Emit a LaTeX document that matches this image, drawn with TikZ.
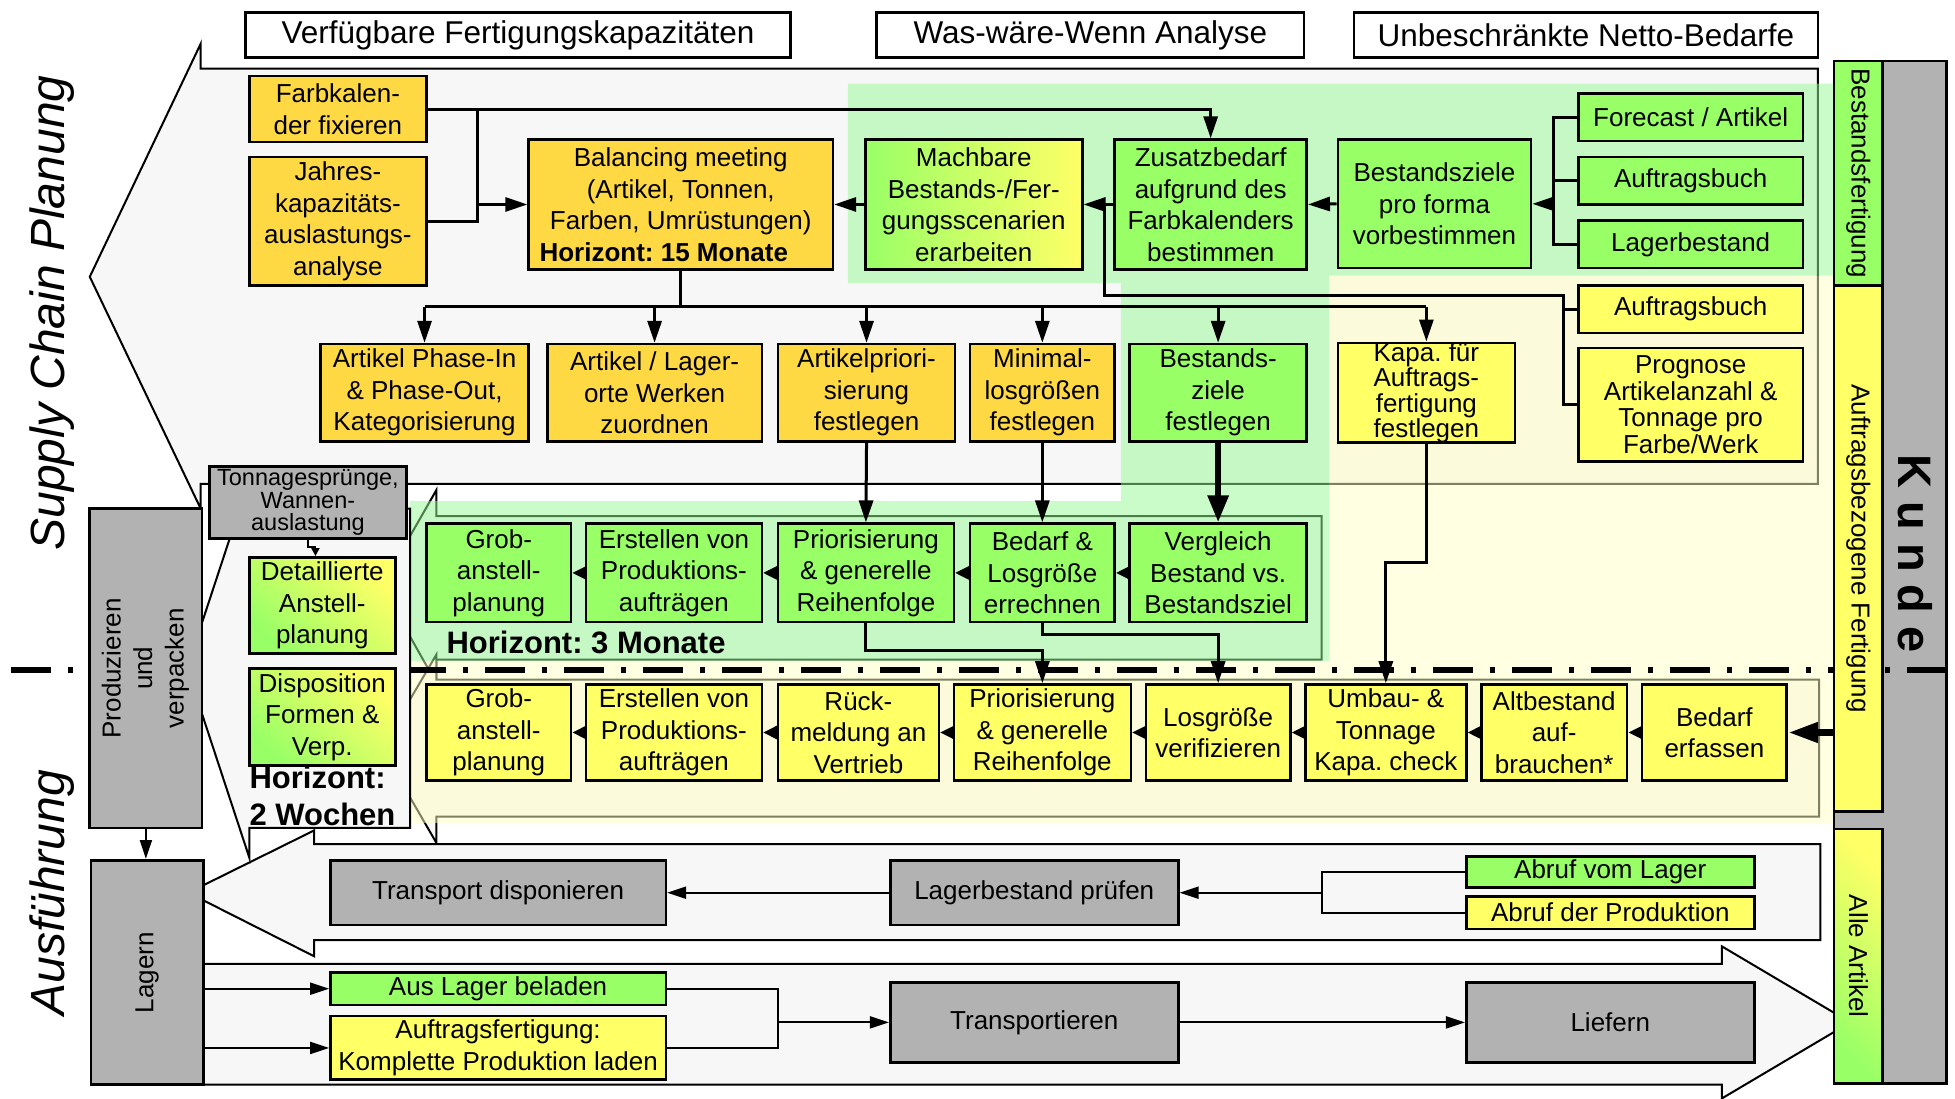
\documentclass[tikz,border=0pt]{standalone}
\usepackage{fontspec}
\setmainfont{Liberation Sans}
\usetikzlibrary{arrows.meta}
\frenchspacing

\definecolor{orgC}{RGB}{255,217,68}
\definecolor{grnC}{RGB}{153,255,102}
\definecolor{yelC}{RGB}{255,255,102}
\definecolor{gryC}{RGB}{178,178,178}
\definecolor{bgC}{RGB}{247,247,247}
\definecolor{ovG}{RGB}{150,250,150}
\definecolor{ovY}{RGB}{255,255,195}

% box from corner (#3,#4) to corner (#5,#6)
\newcommand\mybox[7][]{%
  \pgfmathsetmacro\boxW{(#5-#3)*1.2468}%
  \pgfmathsetmacro\boxH{(#6-#4)*1.2468}%
  \node[box,#1,minimum width=\boxW pt,minimum height=\boxH pt] (#2) at ({(#3+#5)/2},{(#4+#6)/2}) {#7};}
\newcommand\vtext[2]{\rotatebox{#1}{\begin{tabular}{@{}c@{}}#2\end{tabular}}}

\begin{document}
\begin{tikzpicture}[x=1.2468pt,y=-1.2468pt,
  box/.style={draw,line width=2.6pt,align=center,inner sep=1pt,font=\fontsize{26}{31.5}\selectfont},
  hdr/.style={fill=white,font=\fontsize{31.5}{36}\selectfont},
  grad/.style={bottom color=grnC,top color=yelC,shading angle=-45},
  bgarrow/.style={fill=bgC,draw=black,line width=2pt,line join=miter},
  wire/.style={line width=3pt},
  conn/.style={wire,-{Triangle[length=22pt,width=14pt]}},
  sconn/.style={wire,-{Triangle[length=14pt,width=13pt]}},
  thconn/.style={line width=6pt,-{Triangle[length=27pt,width=20pt]}},
  kconn/.style={line width=7pt,-{Triangle[length=30pt,width=19pt]}},
  bwire/.style={line width=2pt},
  bconn/.style={bwire,-{Triangle[length=19pt,width=12pt]}},
  title/.style={font=\fontsize{48}{48}\itshape\selectfont,inner sep=0pt}]
\useasboundingbox (0,0) rectangle (1568,881);

% ---------- block arrows in the background ----------
\draw[bgarrow] (161,35) -- (161,55) -- (1458,55) -- (1458,388) -- (161,388) -- (161,408) -- (72,222) -- cycle;
\draw[bgarrow] (350,393) -- (350,414) -- (1060,414) -- (1060,529) -- (350,529) -- (350,548) -- (306,470) -- cycle;
\draw[bgarrow] (350,525) -- (350,545) -- (1459,545) -- (1459,655) -- (350,655) -- (350,676) -- (306,600) -- cycle;
\draw[bgarrow] (252,666) -- (252,677) -- (1460,677) -- (1460,754) -- (252,754) -- (252,767) -- (151,716) -- cycle;
\draw[bgarrow] (73,773) -- (1381,773) -- (1381,759) -- (1484,820) -- (1381,881) -- (1381,870) -- (73,870) -- cycle;

% ---------- tinted areas ----------
\fill[ovG,fill opacity=0.5] (680,67) -- (1470,67) -- (1470,221) -- (1066,221) -- (1066,530) -- (329,530) -- (329,402) -- (899,402) -- (899,227) -- (680,227) -- cycle;
\fill[ovY,fill opacity=0.5] (1066,221) -- (1472,221) -- (1472,660) -- (329,660) -- (329,530) -- (1066,530) -- cycle;

% ---------- customer column ----------
\mybox[fill=gryC]{kunde}{1471}{49}{1561}{869}{}

% planning / execution border
\draw[line width=6pt,dash pattern=on 40pt off 17pt on 5pt off 17pt] (9,537) -- (1561,537);

\mybox[fill=grnC]{bestbar}{1471}{49}{1510}{229}{\rotatebox{-90}{Bestandsfertigung}}
\mybox[fill=yelC]{auftrag}{1471}{229}{1510}{651}{\rotatebox{-90}{Auftragsbezogene Fertigung}}
\mybox[grad]{alle}{1471}{665}{1510}{869}{\rotatebox{-90}{Alle Artikel}}
\node[font=\fontsize{47}{47}\bfseries\selectfont,rotate=-90] (kundetxt) at (1536,444) {K u n d e};

% detail planning arrow
\draw[bgarrow] (200,384) -- (200,408) -- (329,408) -- (329,664) -- (200,664) -- (200,688) -- (150,536) -- cycle;

% ---------- titles ----------
\node[title,rotate=90] (tplan) at (42,251) {Supply Chain Planung};
\node[title,rotate=90] (texec) at (42,716) {Ausführung};

% ---------- headers ----------
\mybox[hdr]{hcap}{197}{10}{634}{46}{Verfügbare Fertigungskapazitäten}
\mybox[hdr]{hwas}{703}{10}{1046}{46}{Was-wäre-Wenn Analyse}
\mybox[hdr]{hnet}{1086}{10}{1458}{46}{Unbeschränkte Netto-Bedarfe}

% ---------- row 1 ----------
\mybox[fill=orgC]{farb}{200}{61}{342}{114}{Farbkalen-\\der fixieren}
\mybox[fill=orgC]{jahres}{200}{126}{342}{229}{Jahres-\\kapazitäts-\\auslastungs-\\analyse}
\mybox[fill=orgC]{balance}{424}{112}{668}{216}{Balancing meeting\\(Artikel, Tonnen,\\Farben, Umrüstungen)\\\textbf{Horizont: 15 Monate}\hspace*{34pt}}
\mybox[left color=grnC,right color=yelC]{machbar}{694}{112}{868}{216}{Machbare\\Bestands-/Fer-\\gungsscenarien\\erarbeiten}
\mybox[fill=grnC]{zusatz}{894}{112}{1048}{216}{Zusatzbedarf\\aufgrund des\\Farbkalenders\\bestimmen}
\mybox[fill=grnC]{proforma}{1073}{112}{1228}{215}{Bestandsziele\\pro forma\\vorbestimmen}
\mybox[fill=grnC]{forecast}{1266}{75}{1446}{113}{Forecast / Artikel}
\mybox[fill=grnC]{abuchg}{1266}{126}{1446}{164}{Auftragsbuch}
\mybox[fill=grnC]{lagerb}{1266}{177}{1446}{215}{Lagerbestand}
\mybox[fill=yelC]{abuchy}{1266}{229}{1446}{267}{Auftragsbuch}
\mybox[fill=yelC,font=\fontsize{26}{26.7}\selectfont,inner sep=0pt]{prognose}{1266}{279}{1446}{370}{Prognose\\Artikelanzahl \&\\Tonnage pro\\Farbe/Werk}

% ---------- row 2 ----------
\mybox[fill=orgC]{phase}{257}{276}{424}{354}{Artikel Phase-In\\\& Phase-Out,\\Kategorisierung}
\mybox[fill=orgC]{lagerorte}{439}{276}{611}{354}{Artikel / Lager-\\orte Werken\\zuordnen}
\mybox[fill=orgC]{artprio}{624}{276}{766}{354}{Artikelpriori-\\sierung\\festlegen}
\mybox[fill=orgC]{minlos}{778}{276}{894}{354}{Minimal-\\losgrößen\\festlegen}
\mybox[fill=grnC]{bzfest}{906}{276}{1048}{354}{Bestands-\\ziele\\festlegen}
\mybox[fill=yelC,font=\fontsize{26}{22.5}\selectfont,inner sep=0pt]{kapa}{1073}{276}{1215}{354}{Kapa. für\\Auftrags-\\fertigung\\festlegen}

% ---------- row 3 (3 months) ----------
\mybox[fill=grnC]{grobA}{342}{420}{458}{499}{Grob-\\anstell-\\planung}
\mybox[fill=grnC]{erstA}{470}{420}{611}{499}{Erstellen von\\Produktions-\\aufträgen}
\mybox[fill=grnC]{prioA}{624}{420}{765}{499}{Priorisierung\\\& generelle\\Reihenfolge}
\mybox[fill=grnC]{bedarfA}{778}{420}{894}{499}{Bedarf \&\\Losgröße\\errechnen}
\mybox[fill=grnC]{vergl}{906}{420}{1048}{499}{Vergleich\\Bestand vs.\\Bestandsziel}
\node[font=\fontsize{31}{37}\bfseries\selectfont,anchor=base west,inner sep=0pt] (h3) at (358,524) {Horizont: 3 Monate};

% ---------- row 4 ----------
\mybox[fill=yelC]{grobB}{342}{549}{458}{626}{Grob-\\anstell-\\planung}
\mybox[fill=yelC]{erstB}{470}{549}{611}{626}{Erstellen von\\Produktions-\\aufträgen}
\mybox[fill=yelC]{rueck}{624}{549}{753}{626}{Rück-\\meldung an\\Vertrieb}
\mybox[fill=yelC]{prioB}{765}{549}{907}{626}{Priorisierung\\\& generelle\\Reihenfolge}
\mybox[fill=yelC]{losver}{919}{549}{1035}{626}{Losgröße\\verifizieren}
\mybox[fill=yelC]{umbau}{1047}{549}{1176}{626}{Umbau- \&\\Tonnage\\Kapa. check}
\mybox[fill=yelC]{altbest}{1188}{549}{1305}{626}{Altbestand\\auf-\\brauchen*}
\mybox[fill=yelC]{erfassen}{1317}{549}{1433}{626}{Bedarf\\erfassen}

% ---------- left column ----------
\mybox[fill=gryC,font=\fontsize{23.5}{22.5}\selectfont,inner sep=0pt]{tonn}{168}{374}{326}{432}{Tonnagesprünge,\\Wannen-\\auslastung}
\mybox[grad]{detail}{200}{447}{317}{524}{Detaillierte\\Anstell-\\planung}
\mybox[grad]{dispo}{200}{536}{317}{614}{Disposition\\Formen \&\\Verp.}
\node[font=\fontsize{31}{37}\bfseries\selectfont,anchor=west,align=left,inner sep=0pt] (h2) at (200,638) {Horizont:\\2 Wochen};
\mybox[fill=gryC]{prod}{72}{408}{162}{664}{\vtext{90}{Produzieren\\und\\verpacken}}
\mybox[fill=gryC]{lagern}{73}{690}{163}{870}{\rotatebox{90}{Lagern}}

% ---------- execution ----------
\mybox[fill=gryC]{transdisp}{265}{690}{534}{742}{Transport disponieren}
\mybox[fill=gryC]{lagpruef}{714}{690}{945}{742}{Lagerbestand prüfen}
\mybox[fill=grnC,inner sep=0pt]{abrufL}{1176}{687}{1407}{712}{Abruf vom Lager}
\mybox[fill=yelC,inner sep=0pt]{abrufP}{1176}{719}{1407}{745}{Abruf der Produktion}
\mybox[fill=grnC,inner sep=0pt]{ausLager}{265}{780}{534}{806}{Aus Lager beladen}
\mybox[fill=yelC,inner sep=0pt]{auftfert}{265}{815}{534}{866}{Auftragsfertigung:\\Komplette Produktion laden}
\mybox[fill=gryC]{transp}{714}{788}{945}{852}{Transportieren}
\mybox[fill=gryC]{liefern}{1176}{788}{1407}{852}{Liefern}

% ---------- junction helpers ----------
\coordinate (jA) at (383,0);
\coordinate (jB) at (886,0);
\coordinate (jC) at (1254,0);
\coordinate (jD) at (1246,0);
\coordinate (jE) at (1060,0);
\coordinate (jF) at (624,0);
\coordinate (tx1) at (247,0);
\coordinate (tx2) at (253,0);
\coordinate (b2) at (0,246);
\coordinate (y237) at (0,237);
\coordinate (y451) at (0,451);
\coordinate (y522) at (0,522);
\coordinate (y509) at (0,509);
\coordinate (ty) at (0,439);

% ---------- connectors, planning ----------
\draw[conn] (farb.east) -| (zusatz.north);
\draw[wire] (farb.east -| jA) -- (jahres.east -| jA) -- (jahres.east);
\draw[conn] (balance.west -| jA) -- (balance.west);
\draw[wire] (balance.south) -- (balance.south |- b2);
\draw[wire] (phase.north |- b2) -- (kapa.north |- b2);
\foreach \n in {phase,lagerorte,artprio,minlos,bzfest,kapa}
  \draw[conn] (\n.north |- b2) -- (\n.north);
\draw[conn] (proforma.west) -- (zusatz.east);
\draw[conn] (zusatz.west) -- (machbar.east);
\draw[conn] (machbar.west) -- (balance.east);
\draw[wire] (abuchy.west) -- (abuchy.west -| jC);
\draw[wire] (prognose.west) -- (prognose.west -| jC) -- (jC |- y237) -- (jB |- y237) -- (jB |- zusatz.west);
\draw[wire] (forecast.west) -- (forecast.west -| jD) -- (lagerb.west -| jD) -- (lagerb.west);
\draw[wire] (abuchg.west) -- (abuchg.west -| jD);
\draw[conn] (proforma.east -| jD) -- (proforma.east);

\draw[conn] (artprio.south) -- (prioA.north);
\draw[conn] (minlos.south) -- (bedarfA.north);
\draw[thconn] (bzfest.south) -- (vergl.north);
\draw[conn] (kapa.south) -- (kapa.south |- y451) -- (umbau.north |- y451) -- (umbau.north);

\draw[sconn] (vergl.west) -- (bedarfA.east);
\draw[sconn] (bedarfA.west) -- (prioA.east);
\draw[sconn] (prioA.west) -- (erstA.east);
\draw[sconn] (erstA.west) -- (grobA.east);

\draw[conn] (prioA.south) -- (prioA.south |- y522) -- (prioB.north |- y522) -- (prioB.north);
\draw[conn] (bedarfA.south) -- (bedarfA.south |- y509) -- (losver.north |- y509) -- (losver.north);

\draw[kconn] (auftrag.west |- erfassen.east) -- (erfassen.east);
\draw[sconn] (erfassen.west) -- (altbest.east);
\draw[sconn] (altbest.west) -- (umbau.east);
\draw[sconn] (umbau.west) -- (losver.east);
\draw[sconn] (losver.west) -- (prioB.east);
\draw[sconn] (prioB.west) -- (rueck.east);
\draw[sconn] (rueck.west) -- (erstB.east);
\draw[sconn] (erstB.west) -- (grobB.east);

\draw[line width=2pt,-{Triangle[length=8pt,width=8pt]}] (tonn.south -| tx1) -- (ty -| tx1) -- (ty -| tx2) -- (detail.north -| tx2);

% ---------- connectors, execution ----------
\draw[bconn] (prod.south) -- (prod.south |- lagern.north);
\draw[bconn] (lagpruef.west) -- (transdisp.east);
\draw[bwire] (abrufL.west) -- (abrufL.west -| jE) -- (abrufP.west -| jE) -- (abrufP.west);
\draw[bconn] (jE |- lagpruef.east) -- (lagpruef.east);
\draw[bconn] (lagern.east |- ausLager.west) -- (ausLager.west);
\draw[bconn] (lagern.east |- auftfert.west) -- (auftfert.west);
\draw[bwire] (ausLager.east) -- (ausLager.east -| jF) -- (auftfert.east -| jF) -- (auftfert.east);
\draw[bconn] (jF |- transp.west) -- (transp.west);
\draw[bconn] (transp.east) -- (liefern.west);
\end{tikzpicture}
\end{document}
